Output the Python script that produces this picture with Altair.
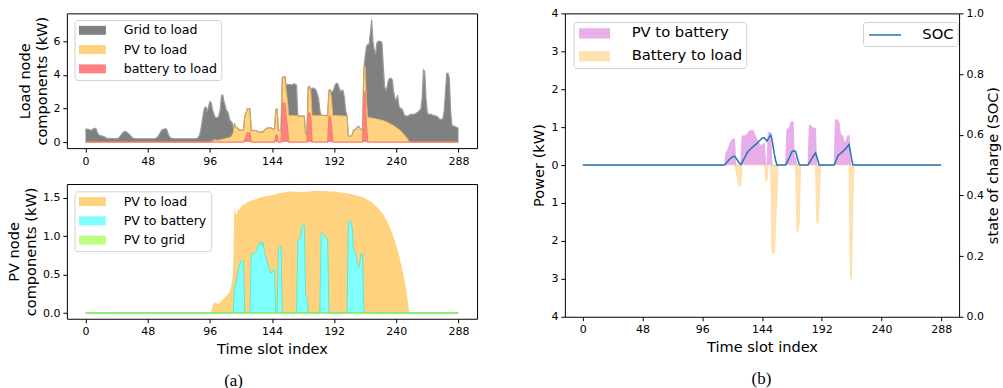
import altair as alt
import pandas as pd

# ------------------------------------------------------------------ data
N = 289
SLOTS = list(range(N))
X_TICKS = [0, 48, 96, 144, 192, 240, 288]

# grid import that covers the load (kW), slots 0..288
grid_to_load = [
    0.79, 0.78, 0.76, 0.74, 0.70, 0.72, 0.80, 0.82, 0.82, 0.60, 0.45, 0.40,
    0.38, 0.36, 0.33, 0.30, 0.24, 0.22, 0.22, 0.21, 0.22, 0.22, 0.20, 0.20,
    0.21, 0.22, 0.28, 0.36, 0.48, 0.58, 0.63, 0.62, 0.58, 0.52, 0.45, 0.36,
    0.28, 0.22, 0.21, 0.20, 0.20, 0.21, 0.20, 0.20, 0.21, 0.20, 0.20, 0.20,
    0.20, 0.21, 0.20, 0.20, 0.21, 0.20, 0.22, 0.26, 0.34, 0.46, 0.60, 0.72,
    0.76, 0.78, 0.80, 0.70, 0.45, 0.30, 0.24, 0.22, 0.21, 0.20, 0.20, 0.20,
    0.20, 0.21, 0.20, 0.20, 0.20, 0.21, 0.20, 0.20, 0.20, 0.21, 0.20, 0.20,
    0.20, 0.21, 0.22, 0.26, 0.40, 0.70, 1.20, 1.70, 2.05, 2.10, 1.80, 2.10,
    2.40, 2.33, 1.87, 1.58, 1.36, 1.32, 1.33, 1.48, 1.76, 2.59, 2.62, 2.21,
    1.94, 1.62, 1.55, 1.18, 0.94, 0.82, 0.30, 0.00, 0.00, 0.00, 0.00, 0.00,
    0.00, 0.00, 0.00, 0.00, 0.00, 0.00, 0.00, 0.00, 0.00, 0.00, 0.00, 0.00,
    0.00, 0.00, 0.00, 0.00, 0.00, 0.00, 0.00, 0.00, 0.00, 0.00, 0.00, 0.00,
    0.00, 0.00, 0.00, 0.00, 0.00, 0.00, 0.00, 0.00, 0.00, 0.00, 0.00, 0.30,
    0.95, 1.85, 1.85, 1.82, 1.85, 1.90, 1.88, 1.80, 0.00, 0.00, 0.00, 0.00,
    0.00, 0.00, 0.00, 0.00, 0.00, 0.00, 0.00, 1.62, 1.62, 1.60, 1.50, 1.30,
    1.00, 0.30, 0.00, 0.00, 0.00, 0.00, 0.00, 0.00, 0.00, 0.00, 0.42, 1.42,
    1.62, 1.87, 1.93, 1.88, 1.63, 1.43, 1.53, 1.49, 1.04, 0.30, 0.00, 0.00,
    0.00, 0.00, 0.00, 0.00, 0.00, 0.00, 0.00, 0.00, 0.00, 0.00, 0.00, 0.00,
    0.60, 3.22, 4.33, 4.34, 5.05, 5.86, 4.57, 4.09, 3.80, 4.52, 4.64, 4.66,
    4.68, 4.60, 3.22, 2.05, 1.88, 2.11, 2.55, 2.69, 2.73, 2.67, 2.02, 1.67,
    1.62, 1.98, 1.44, 1.31, 1.38, 1.36, 1.19, 1.18, 1.28, 1.40, 1.60, 1.65,
    1.65, 1.65, 1.65, 1.70, 1.75, 1.80, 1.90, 1.95, 2.60, 4.30, 4.20, 2.60,
    1.75, 1.65, 1.65, 1.65, 1.60, 1.60, 1.55, 1.55, 1.50, 1.40, 1.35, 1.35,
    1.40, 1.85, 3.00, 4.10, 4.10, 3.80, 1.85, 1.00, 0.95, 0.95, 0.90, 0.85,
    0.85,
]

# PV power delivered to the load (kW), daylight slots 97..250
pv_to_load = [0.0] * 97 + [
    0.02, 0.08, 0.12, 0.14, 0.13, 0.12, 0.12, 0.14, 0.16, 0.18, 0.19, 0.21,
    0.23, 0.25, 0.27, 0.31, 0.38, 0.55, 1.09, 0.90, 0.85, 0.80, 0.71, 0.71,
    0.71, 0.73, 1.41, 1.43, 1.44, 1.45, 1.45, 0.70, 0.69, 0.70, 0.69, 0.68,
    0.62, 0.60, 0.57, 0.63, 0.59, 0.70, 0.77, 0.82, 0.85, 0.85, 0.85, 0.82,
    0.78, 0.78, 1.55, 1.55, 0.70, 0.70, 0.70, 1.56, 1.57, 1.57, 1.57, 1.58,
    1.58, 1.58, 1.58, 1.58, 1.58, 1.57, 1.58, 1.56, 1.55, 1.55, 1.55, 1.55,
    1.55, 0.50, 0.45, 1.58, 1.58, 1.58, 1.59, 1.59, 1.59, 1.59, 1.59, 1.59,
    1.59, 1.59, 1.59, 1.59, 1.59, 1.59, 1.58, 1.58, 1.58, 1.58, 1.58, 1.58,
    1.58, 1.57, 1.57, 1.57, 1.57, 1.57, 1.56, 1.56, 1.56, 1.56, 0.36, 0.35,
    0.36, 0.44, 0.72, 0.74, 0.78, 0.91, 0.94, 0.84, 0.74, 0.74, 1.50, 1.49,
    1.48, 1.47, 1.46, 1.45, 1.44, 1.43, 1.41, 1.40, 1.38, 1.36, 1.34, 1.32,
    1.30, 1.28, 1.25, 1.22, 1.19, 1.15, 1.11, 1.07, 1.03, 0.98, 0.93, 0.88,
    0.82, 0.76, 0.69, 0.62, 0.54, 0.46, 0.37, 0.27, 0.15, 0.00,
] + [0.0] * 38

# total PV output (kW); daylight from slot 97 to slot 250
pv_generation = [0.0] * 97 + [
    0.02, 0.08, 0.12, 0.14, 0.13, 0.12, 0.12, 0.14, 0.16, 0.18, 0.19, 0.21,
    0.23, 0.25, 0.27, 0.31, 0.38, 0.55, 1.41, 1.28, 1.30, 1.35, 1.34, 1.38,
    1.40, 1.42, 1.41, 1.43, 1.44, 1.45, 1.45, 1.46, 1.47, 1.47, 1.48, 1.48,
    1.49, 1.50, 1.50, 1.51, 1.51, 1.52, 1.52, 1.52, 1.53, 1.53, 1.53, 1.54,
    1.54, 1.54, 1.55, 1.55, 1.55, 1.56, 1.56, 1.56, 1.57, 1.57, 1.57, 1.58,
    1.58, 1.58, 1.58, 1.58, 1.58, 1.57, 1.58, 1.58, 1.57, 1.58, 1.58, 1.57,
    1.57, 1.58, 1.58, 1.58, 1.58, 1.58, 1.59, 1.59, 1.59, 1.59, 1.59, 1.59,
    1.59, 1.59, 1.59, 1.59, 1.59, 1.59, 1.58, 1.58, 1.58, 1.58, 1.58, 1.58,
    1.58, 1.57, 1.57, 1.57, 1.57, 1.57, 1.56, 1.56, 1.56, 1.56, 1.55, 1.55,
    1.55, 1.54, 1.54, 1.54, 1.53, 1.53, 1.52, 1.52, 1.51, 1.51, 1.50, 1.49,
    1.48, 1.47, 1.46, 1.45, 1.44, 1.43, 1.41, 1.40, 1.38, 1.36, 1.34, 1.32,
    1.30, 1.28, 1.25, 1.22, 1.19, 1.15, 1.11, 1.07, 1.03, 0.98, 0.93, 0.88,
    0.82, 0.76, 0.69, 0.62, 0.54, 0.46, 0.37, 0.27, 0.15, 0.00,
] + [0.0] * 38

# PV power sent to the battery (kW), slots 115..214
pv_to_battery = [0.0] * 115 + [
    0.32, 0.38, 0.45, 0.55, 0.63, 0.67, 0.69, 0.69, 0.00, 0.00, 0.00, 0.00,
    0.00, 0.76, 0.78, 0.77, 0.79, 0.80, 0.87, 0.90, 0.93, 0.88, 0.92, 0.82,
    0.75, 0.68, 0.62, 0.56, 0.52, 0.53, 0.56, 0.57, 0.00, 0.00, 0.85, 0.86,
    0.86, 0.00, 0.00, 0.00, 0.00, 0.00, 0.00, 0.00, 0.00, 0.00, 0.00, 0.00,
    0.00, 0.94, 0.96, 0.98, 1.12, 1.14, 1.14, 0.22, 0.20, 0.00, 0.00, 0.00,
    0.00, 0.00, 0.00, 0.00, 0.00, 0.00, 0.00, 1.04, 1.04, 1.02, 0.98, 0.97,
    0.97, 0.00, 0.00, 0.00, 0.00, 0.00, 0.00, 0.00, 0.00, 0.00, 0.00, 0.00,
    0.00, 0.00, 0.00, 0.00, 1.19, 1.20, 1.19, 1.10, 0.82, 0.80, 0.76, 0.62,
    0.59, 0.68, 0.78, 0.77,
] + [0.0] * 74

# battery discharge into the load (kW), slots 123..217
battery_to_load = [0.0] * 123 + [
    0.15, 0.30, 0.55, 0.55, 0.55, 0.00, 0.00, 0.00, 0.00, 0.00, 0.00, 0.00,
    0.00, 0.00, 0.00, 0.00, 0.00, 0.00, 0.00, 0.00, 0.00, 0.00, 0.00, 0.00,
    0.40, 0.42, 0.00, 0.00, 0.00, 2.28, 2.33, 2.32, 1.50, 0.90, 0.00, 0.00,
    0.00, 0.00, 0.00, 0.00, 0.00, 0.00, 0.00, 0.00, 0.00, 0.00, 0.00, 0.00,
    0.00, 1.70, 1.75, 1.50, 0.00, 0.00, 0.00, 0.00, 0.00, 0.00, 0.00, 0.00,
    0.00, 0.00, 0.00, 0.00, 0.00, 1.50, 1.54, 1.00, 0.00, 0.00, 0.00, 0.00,
    0.00, 0.00, 0.00, 0.00, 0.00, 0.00, 0.00, 0.00, 0.00, 0.00, 0.00, 0.00,
    0.00, 0.00, 0.00, 0.00, 0.00, 0.00, 0.00, 0.00, 2.90, 3.02, 1.00,
] + [0.0] * 71

pv_to_grid = [0.0] * N

# battery state of charge, slots 115..217 (0.5 elsewhere)
soc = [0.5] * 115 + [
    0.505, 0.510, 0.515, 0.519, 0.523, 0.526, 0.528, 0.528, 0.524, 0.518, 0.511, 0.505,
    0.502, 0.508, 0.516, 0.524, 0.532, 0.540, 0.545, 0.550, 0.554, 0.558, 0.561, 0.565,
    0.568, 0.572, 0.576, 0.580, 0.584, 0.588, 0.590, 0.590, 0.584, 0.579, 0.586, 0.593,
    0.599, 0.585, 0.560, 0.535, 0.515, 0.500, 0.500, 0.500, 0.500, 0.500, 0.500, 0.500,
    0.500, 0.508, 0.516, 0.524, 0.534, 0.544, 0.546, 0.546, 0.545, 0.530, 0.515, 0.502,
    0.500, 0.500, 0.500, 0.500, 0.500, 0.500, 0.500, 0.507, 0.514, 0.521, 0.528, 0.534,
    0.540, 0.528, 0.514, 0.500, 0.500, 0.500, 0.500, 0.500, 0.500, 0.500, 0.500, 0.500,
    0.500, 0.500, 0.500, 0.500, 0.510, 0.520, 0.530, 0.535, 0.538, 0.541, 0.545, 0.549,
    0.553, 0.558, 0.563, 0.568, 0.545, 0.520, 0.502,
] + [0.5] * 71

# ------------------------------------------------------------- stacked tables
b1 = list(battery_to_load)
b2 = [a + b for a, b in zip(b1, pv_to_load)]
b3 = [a + b for a, b in zip(b2, grid_to_load)]
zeros = [0.0] * N
neg_batt = [-v for v in battery_to_load]


def band(name, lo, hi):
    return pd.DataFrame({"slot": SLOTS, "series": name, "lo": lo, "hi": hi})


top_df = pd.concat([band("Grid to load", b2, b3),
                    band("PV to load", b1, b2),
                    band("battery to load", zeros, b1)])
pv_df = pd.concat([band("PV to load", pv_to_battery, pv_generation),
                   band("PV to battery", zeros, pv_to_battery),
                   band("PV to grid", zeros, pv_to_grid)])
pow_df = pd.concat([band("PV to battery", zeros, pv_to_battery),
                    band("Battery to load", neg_batt, zeros)])
lines_df = pd.DataFrame({"slot": SLOTS, "b1": b1, "b2": b2, "b3": b3,
                         "ptb": pv_to_battery, "ptg": pv_to_grid,
                         "nb": neg_batt, "soc": soc, "name": "SOC"})

# ------------------------------------------------------------- styling
FONT = "DejaVu Sans"
RECT = "M-2.25,-0.75H2.25V0.75H-2.25Z"
W_L, H_L = 411, 135
W_R, H_R = 395, 304

X_SCALE = alt.Scale(domain=[-14.4, 302.4], nice=False, zero=False)
Y_TOP = alt.Scale(domain=[-0.356, 7.665], nice=False, zero=False)
Y_PV = alt.Scale(domain=[-0.074, 1.678], nice=False, zero=False)
Y_POW = alt.Scale(domain=[-4, 4], nice=False, zero=False)

X_AX_TOP = alt.Axis(values=X_TICKS, title=None, labelFlush=False)
X_AX_TITLED = alt.Axis(values=X_TICKS, title="Time slot index", labelFlush=False,
                       titleY=31, titleBaseline="middle")
Y_AX_TOP = alt.Axis(values=[0, 2, 4, 6], title=["Load node", "components (kW)"],
                    titleAngle=270, titleX=-41, titleY=67.5, titleAlign="center",
                    titleBaseline="middle", titleLineHeight=16.5)
Y_AX_PV = alt.Axis(values=[0, 0.5, 1.0, 1.5], format=".1f",
                   title=["PV node", "components (kW)"],
                   titleAngle=270, titleX=-52, titleY=67.5, titleAlign="center",
                   titleBaseline="middle", titleLineHeight=16.5)
Y_AX_POW = alt.Axis(values=list(range(-4, 5)), labelExpr="abs(datum.value)",
                    title="Power (kW)", titleAngle=270, titleX=-25, titleY=152,
                    titleAlign="center", titleBaseline="middle")


def legend_box(x, y, size, offset, label_offset, font_size, row_pad, sym=RECT, stroke_w=0):
    return alt.Legend(
        title=None, orient="none", legendX=x, legendY=y, padding=4,
        rowPadding=row_pad, symbolType=sym, symbolSize=size,
        symbolStrokeWidth=stroke_w, symbolOffset=offset, labelOffset=label_offset,
        labelFontSize=font_size, labelFont=FONT, labelColor="black",
        strokeColor="#d0d0d0", fillColor="rgba(255,255,255,0.8)", cornerRadius=3,
    )


def edge(field, color, width, yscale, xaxis, yaxis):
    return alt.Chart(lines_df).mark_line(color=color, strokeWidth=width, clip=True).encode(
        x=alt.X("slot:Q", scale=X_SCALE, axis=xaxis),
        y=alt.Y(f"{field}:Q", scale=yscale, axis=yaxis),
    )


# ---------------------------------------------------- load node components
top_fill = alt.Chart(top_df).mark_area(clip=True).encode(
    x=alt.X("slot:Q", scale=X_SCALE, axis=X_AX_TOP),
    y=alt.Y("hi:Q", stack=None, scale=Y_TOP, axis=Y_AX_TOP),
    y2="lo:Q",
    color=alt.Color("series:N",
                    scale=alt.Scale(domain=["Grid to load", "PV to load", "battery to load"],
                                    range=["#808080", "#FFD280", "#FF8080"]),
                    legend=legend_box(7.7, 6.7, 144, 7.6, 25, 12.6, 6.3)),
)
top = alt.layer(
    top_fill,
    edge("b3", "#9c9c9c", 1.2, Y_TOP, X_AX_TOP, Y_AX_TOP),
    edge("b2", "#E2AA50", 0.9, Y_TOP, X_AX_TOP, Y_AX_TOP),
    edge("b1", "#F4806E", 1.2, Y_TOP, X_AX_TOP, Y_AX_TOP),
).properties(width=W_L, height=H_L)

# ------------------------------------------------------ PV node components
cap_a = alt.Chart(pd.DataFrame({"t": ["(a)"]})).mark_text(
    font="Liberation Serif", fontSize=17, color="black", baseline="middle"
).encode(text="t:N", x=alt.value(167), y=alt.value(197))

pv_fill = alt.Chart(pv_df).mark_area(clip=True).encode(
    x=alt.X("slot:Q", scale=X_SCALE, axis=X_AX_TITLED),
    y=alt.Y("hi:Q", stack=None, scale=Y_PV, axis=Y_AX_PV),
    y2="lo:Q",
    color=alt.Color("series:N",
                    scale=alt.Scale(domain=["PV to load", "PV to battery", "PV to grid"],
                                    range=["#FFD280", "#80FFFF", "#BFFF80"]),
                    legend=legend_box(7.7, 7.3, 144, 7.6, 25, 12.6, 6.3)),
)
bottom = alt.layer(
    pv_fill,
    edge("ptb", "#5FE6C2", 1.0, Y_PV, X_AX_TITLED, Y_AX_PV),
    edge("ptg", "#80EE50", 1.6, Y_PV, X_AX_TITLED, Y_AX_PV),
    cap_a,
).properties(width=W_L, height=H_L)

# ------------------------------------------------------ battery power + SOC
cap_b = alt.Chart(pd.DataFrame({"t": ["(b)"]})).mark_text(
    font="Liberation Serif", fontSize=17, color="black", baseline="middle"
).encode(text="t:N", x=alt.value(197), y=alt.value(366))

pow_fill = alt.Chart(pow_df).mark_area(clip=True).encode(
    x=alt.X("slot:Q", scale=X_SCALE, axis=X_AX_TITLED),
    y=alt.Y("hi:Q", stack=None, scale=Y_POW, axis=Y_AX_POW),
    y2="lo:Q",
    color=alt.Color("series:N",
                    scale=alt.Scale(domain=["PV to battery", "Battery to load"],
                                    range=["#E9AEE9", "#FFE2B0"]),
                    legend=legend_box(8.7, 8.7, 190, 9.6, 29.8, 14.8, 6.9)),
)
power = alt.layer(
    pow_fill,
    edge("ptb", "#E4A4E4", 0.8, Y_POW, X_AX_TITLED, Y_AX_POW),
    edge("nb", "#FFD9A0", 0.8, Y_POW, X_AX_TITLED, Y_AX_POW),
)

soc_line = alt.Chart(lines_df).mark_line(strokeWidth=1.5, clip=True).encode(
    x=alt.X("slot:Q", scale=X_SCALE, axis=X_AX_TITLED),
    y=alt.Y("soc:Q", scale=alt.Scale(domain=[0, 1], nice=False, zero=False),
            axis=alt.Axis(orient="right", values=[0, 0.2, 0.4, 0.6, 0.8, 1.0], format=".1f",
                          title="state of charge (SOC)", titleAngle=270, titleX=34,
                          titleY=152, titleAlign="center", titleBaseline="middle")),
    color=alt.Color("name:N", scale=alt.Scale(domain=["SOC"], range=["#1f77b4"]),
                    legend=legend_box(298.7, 8.7, 256, 9.1, 28.3, 14.8, 6.9,
                                      sym="M-2,0H2", stroke_w=1.5)),
)

right = alt.layer(power, soc_line, cap_b).resolve_scale(
    y="independent", color="independent"
).properties(width=W_R, height=H_R)

left = alt.vconcat(top, bottom, spacing=16).resolve_scale(color="independent")

chart = alt.hconcat(left, right, spacing=53).resolve_scale(
    color="independent"
).properties(
    padding={"left": 6, "top": 6, "right": 2, "bottom": 2},
    background="white",
).configure_view(
    stroke="black", strokeWidth=1
).configure_axis(
    domain=False, grid=False, tickColor="black", tickWidth=1, tickSize=4,
    labelFont=FONT, labelFontSize=11, labelColor="black", labelPadding=3,
    titleFont=FONT, titleFontSize=14.6, titleFontWeight="normal", titleColor="black",
).configure_legend(
    labelFont=FONT, labelColor="black", labelLimit=300,
)

chart.save("out.html", embed_options={"renderer": "svg", "actions": False})
